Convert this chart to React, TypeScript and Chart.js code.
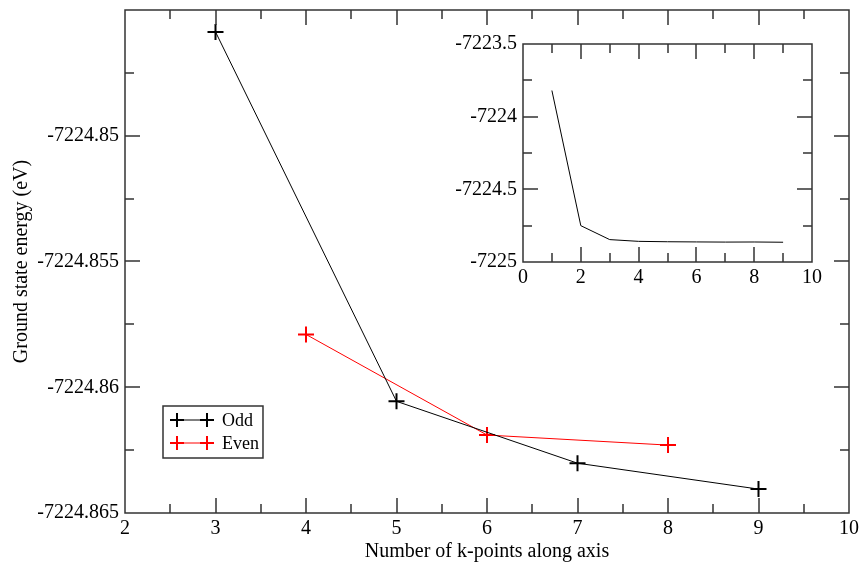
import React, { useEffect, useRef } from 'react';
import { Chart, registerables } from 'chart.js';
Chart.register(...registerables);

const oddK = [3, 5, 7, 9];
const oddE = [-7224.84587, -7224.86056, -7224.86302, -7224.86405];
const evenK = [4, 6, 8];
const evenE = [-7224.8579, -7224.8619, -7224.8623];
const insetK = [1, 2, 3, 4, 5, 6, 7, 8, 9];
const insetE = [-7223.82, -7224.75, -7224.84587, -7224.8579, -7224.86056, -7224.8619, -7224.86302, -7224.8623, -7224.86405];
const seriesNames = ['Odd', 'Even'];
const seriesColors = ['#000000', '#ff0000'];

const SERIF = '"Liberation Serif", "Times New Roman", serif';

function fmt(v: number, digits: number) {
  return String(Number(v.toFixed(digits)));
}

function makeFramePlugin(major: number, minor: number) {
  return {
    id: 'frameTicks',
    afterDraw(chart: any) {
      const { ctx, chartArea } = chart;
      const { left, right, top, bottom } = chartArea;
      const x = chart.scales.x;
      const y = chart.scales.y;
      ctx.save();
      ctx.strokeStyle = '#333';
      ctx.lineWidth = 1.5;
      const xv = x.ticks.map((t: any) => t.value);
      const yv = y.ticks.map((t: any) => t.value);
      const mids = (a: number[]) => a.slice(1).map((v, i) => (v + a[i]) / 2);
      const drawX = (vals: number[], len: number) => {
        vals.forEach((v) => {
          const p = Math.round(x.getPixelForValue(v));
          if (p <= left + 1 || p >= right - 1) return;
          ctx.beginPath();
          ctx.moveTo(p, bottom); ctx.lineTo(p, bottom - len);
          ctx.moveTo(p, top); ctx.lineTo(p, top + len);
          ctx.stroke();
        });
      };
      const drawY = (vals: number[], len: number) => {
        vals.forEach((v) => {
          const p = Math.round(y.getPixelForValue(v));
          if (p <= top + 1 || p >= bottom - 1) return;
          ctx.beginPath();
          ctx.moveTo(left, p); ctx.lineTo(left + len, p);
          ctx.moveTo(right, p); ctx.lineTo(right - len, p);
          ctx.stroke();
        });
      };
      drawX(xv, major); drawX(mids(xv), minor);
      drawY(yv, major); drawY(mids(yv), minor);
      ctx.strokeRect(left, top, right - left, bottom - top);
      ctx.restore();
    },
  };
}

const legendPlugin = {
  id: 'customLegend',
  afterDraw(chart: any) {
    const { ctx } = chart;
    const bx = 163, by = 406, rowH = 23;
    ctx.save();
    ctx.font = `18px ${SERIF}`;
    const widths = chart.data.datasets.map((d: any) => ctx.measureText(d.label).width);
    const bw = 59 + Math.max(...widths) + 4;
    const bh = 52;
    ctx.fillStyle = '#fff';
    ctx.fillRect(bx, by, bw, bh);
    ctx.strokeStyle = '#333';
    ctx.lineWidth = 1.5;
    ctx.strokeRect(bx, by, bw, bh);
    chart.data.datasets.forEach((d: any, i: number) => {
      const cy = by + 14 + i * rowH;
      const x1 = bx + 14, x2 = bx + 44, r = 7;
      ctx.strokeStyle = d.borderColor;
      ctx.lineWidth = 1;
      ctx.beginPath(); ctx.moveTo(x1, cy); ctx.lineTo(x2, cy); ctx.stroke();
      ctx.lineWidth = 2;
      [x1, x2].forEach((cx) => {
        ctx.beginPath();
        ctx.moveTo(cx - r, cy); ctx.lineTo(cx + r, cy);
        ctx.moveTo(cx, cy - r); ctx.lineTo(cx, cy + r);
        ctx.stroke();
      });
      ctx.fillStyle = '#000';
      ctx.textBaseline = 'middle';
      ctx.fillText(d.label, bx + 59, cy + 1);
    });
    ctx.restore();
  },
};

export default function App() {
  const mainRef = useRef<HTMLCanvasElement>(null);
  const insetRef = useRef<HTMLCanvasElement>(null);

  useEffect(() => {
    const tickFont = { family: SERIF, size: 20 };
    const titleFont = { family: SERIF, size: 20 };
    const main = new Chart(mainRef.current!, {
      type: 'line',
      data: {
        datasets: [
          {
            label: seriesNames[0],
            data: oddK.map((k, i) => ({ x: k, y: oddE[i] })),
            borderColor: seriesColors[0],
            pointBorderColor: seriesColors[0],
            borderWidth: 1,
            pointStyle: 'cross',
            pointRadius: 8,
            pointBorderWidth: 2,
            fill: false,
            tension: 0,
          },
          {
            label: seriesNames[1],
            data: evenK.map((k, i) => ({ x: k, y: evenE[i] })),
            borderColor: seriesColors[1],
            pointBorderColor: seriesColors[1],
            borderWidth: 1,
            pointStyle: 'cross',
            pointRadius: 8,
            pointBorderWidth: 2,
            fill: false,
            tension: 0,
          },
        ],
      },
      options: {
        responsive: false,
        animation: false,
        devicePixelRatio: 1,
        layout: { padding: { top: 8, right: 9, left: 0, bottom: 0 } },
        plugins: { legend: { display: false }, tooltip: { enabled: false } },
        scales: {
          x: {
            type: 'linear',
            min: 2,
            max: 10,
            grid: { display: false, drawTicks: false },
            border: { display: false },
            ticks: { stepSize: 1, font: tickFont, color: '#000', padding: 4, maxRotation: 0, autoSkip: false },
            title: { display: true, text: 'Number of k-points along axis', font: titleFont, color: '#000', padding: { top: 0, bottom: 2 } },
            afterFit(s: any) { s.height = 53; s.paddingLeft = 0; s.paddingRight = 0; },
          },
          y: {
            type: 'linear',
            min: -7224.865,
            max: -7224.845,
            grid: { display: false, drawTicks: false },
            border: { display: false },
            ticks: {
              stepSize: 0.005,
              font: tickFont,
              color: '#000',
              padding: 6,
              autoSkip: false,
              callback: (v: any) => (v > -7224.846 ? '' : fmt(Number(v), 3)),
            },
            title: { display: true, text: 'Ground state energy (eV)', font: titleFont, color: '#000', padding: { top: 10, bottom: 0 } },
            afterFit(s: any) { s.width = 125; s.paddingTop = 0; s.paddingBottom = 0; },
          },
        },
      } as any,
      plugins: [makeFramePlugin(15, 9), legendPlugin],
    });

    const inset = new Chart(insetRef.current!, {
      type: 'line',
      data: {
        datasets: [
          {
            label: 'all',
            data: insetK.map((k, i) => ({ x: k, y: insetE[i] })),
            borderColor: '#000',
            borderWidth: 1,
            pointRadius: 0,
            fill: false,
            tension: 0,
          },
        ],
      },
      options: {
        responsive: false,
        animation: false,
        devicePixelRatio: 1,
        layout: { padding: { top: 14, right: 18, left: 0, bottom: 0 } },
        plugins: { legend: { display: false }, tooltip: { enabled: false } },
        scales: {
          x: {
            type: 'linear',
            min: 0,
            max: 10,
            grid: { display: false, drawTicks: false },
            border: { display: false },
            ticks: { stepSize: 2, font: tickFont, color: '#000', padding: 4, maxRotation: 0, autoSkip: false },
            afterFit(s: any) { s.height = 38; s.paddingLeft = 0; s.paddingRight = 0; },
          },
          y: {
            type: 'linear',
            min: -7225,
            max: -7223.5,
            grid: { display: false, drawTicks: false },
            border: { display: false },
            ticks: {
              stepSize: 0.5,
              font: tickFont,
              color: '#000',
              padding: 6,
              autoSkip: false,
              callback: (v: any) => fmt(Number(v), 1),
            },
            afterFit(s: any) { s.width = 93; s.paddingTop = 0; s.paddingBottom = 0; },
          },
        },
      } as any,
      plugins: [makeFramePlugin(15, 9)],
    });

    return () => {
      main.destroy();
      inset.destroy();
    };
  }, []);

  return (
    <div style={{ position: 'fixed', left: 0, top: 0, width: 859, height: 566, background: '#fff' }}>
      <canvas ref={mainRef} width={859} height={566} style={{ position: 'absolute', left: 0, top: 0 }} />
      <canvas ref={insetRef} width={400} height={270} style={{ position: 'absolute', left: 430, top: 30 }} />
    </div>
  );
}
